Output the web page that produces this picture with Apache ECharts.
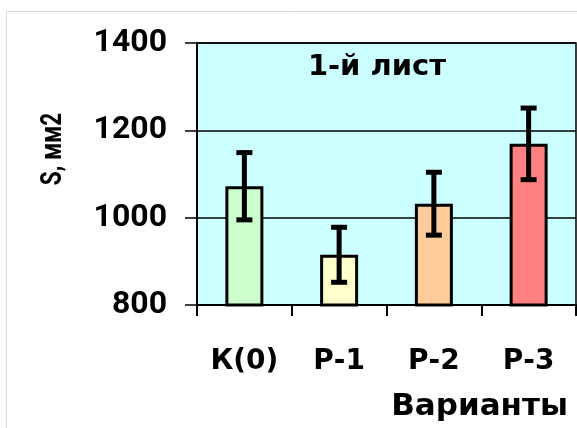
<!DOCTYPE html>
<html>
<head>
<meta charset="utf-8">
<script src="https://cdn.jsdelivr.net/npm/echarts@6/dist/echarts.min.js"></script>
<style>
  html, body { margin: 0; padding: 0; background: #fff; }
  #chart { width: 577px; height: 428px; }
</style>
</head>
<body>
<div id="chart"></div>
<script>
// Leaf area of the first leaf by variant, mean ± error
const categories = ['К(0)', 'Р-1', 'Р-2', 'Р-3'];
const areaMeans = [1072, 915, 1032, 1169];
const areaErrors = [77, 63, 72, 82];
const barColors = ['#ccffcc', '#ffffcc', '#ffcc99', '#ff8080'];
const yTicks = [800, 1000, 1200, 1400];

const chart = echarts.init(document.getElementById('chart'), null, { renderer: 'canvas' });

const errorData = areaMeans.map((v, i) => [i, v - areaErrors[i], v + areaErrors[i]]);

chart.setOption({
  animation: false,
  backgroundColor: '#ffffff',
  grid: {
    left: 197, right: 1, top: 43, bottom: 123,
    show: true,
    backgroundColor: '#ccffff',
    borderColor: '#000',
    borderWidth: 1.5
  },
  xAxis: {
    type: 'category',
    data: categories,
    boundaryGap: true,
    axisLine: { lineStyle: { color: '#000', width: 2 } },
    axisTick: { show: true, length: 11, lineStyle: { color: '#000', width: 2 } },
    axisLabel: {
      margin: 43,
      color: '#000',
      fontFamily: 'DejaVu Sans',
      fontWeight: 'bold',
      fontSize: 28
    },
    splitLine: { show: false }
  },
  yAxis: {
    type: 'value',
    min: yTicks[0],
    max: yTicks[yTicks.length - 1],
    interval: 200,
    axisLine: { show: true, lineStyle: { color: '#000', width: 2 } },
    axisTick: { show: true, length: 12, lineStyle: { color: '#000', width: 1.5 } },
    axisLabel: {
      margin: 30,
      color: '#000',
      fontFamily: 'Roboto',
      fontWeight: 'bold',
      fontSize: 32,
      formatter: function (v) { return String(v); }
    },
    splitLine: { show: true, lineStyle: { color: '#000', width: 1.5 } }
  },
  series: [
    {
      type: 'bar',
      data: areaMeans.map((v, i) => ({ value: v, itemStyle: { color: barColors[i] } })),
      barWidth: 38,
      itemStyle: { borderColor: '#000', borderWidth: 3 },
      z: 2
    },
    {
      type: 'custom',
      data: errorData,
      z: 3,
      renderItem: function (params, api) {
        const x = api.value(0);
        const lo = api.coord([x, api.value(1)]);
        const hi = api.coord([x, api.value(2)]);
        const half = 8;
        const style = { stroke: '#000', lineWidth: 5, lineCap: 'butt' };
        return {
          type: 'group',
          children: [
            { type: 'line', shape: { x1: hi[0], y1: hi[1], x2: lo[0], y2: lo[1] }, style: style },
            { type: 'line', shape: { x1: hi[0] - half, y1: hi[1], x2: hi[0] + half, y2: hi[1] }, style: style },
            { type: 'line', shape: { x1: lo[0] - half, y1: lo[1], x2: lo[0] + half, y2: lo[1] }, style: style }
          ]
        };
      }
    }
  ],
  graphic: [
    {
      type: 'rect',
      silent: true,
      shape: { x: 6.5, y: 11.5, width: 700, height: 600 },
      style: { fill: null, stroke: '#d9d9d9', lineWidth: 1 },
      z: -10
    },
    {
      type: 'text',
      x: 377, y: 67,
      style: {
        text: '1-й лист',
        fontSize: 29,
        fontWeight: 'bold',
        fontFamily: 'DejaVu Sans',
        fill: '#000',
        align: 'center',
        verticalAlign: 'middle'
      },
      z: 10
    },
    {
      type: 'text',
      x: 568, y: 407,
      style: {
        text: 'Варианты',
        fontSize: 31,
        fontWeight: 'bold',
        fontFamily: 'DejaVu Sans',
        fill: '#000',
        align: 'right',
        verticalAlign: 'middle'
      },
      z: 10
    },
    {
      type: 'text',
      x: 54, y: 149,
      rotation: Math.PI / 2,
      scaleX: 0.78,
      style: {
        text: 'S, мм2',
        fontSize: 29,
        fontWeight: 'bold',
        fontFamily: 'Roboto',
        fill: '#000',
        align: 'center',
        verticalAlign: 'middle'
      },
      z: 10
    }
  ]
});
</script>
</body>
</html>
